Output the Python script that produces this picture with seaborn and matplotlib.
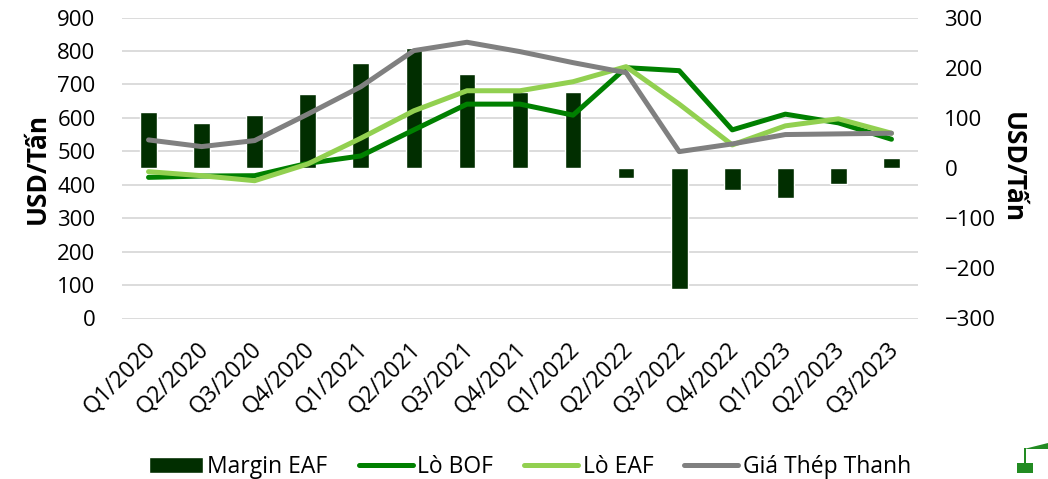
import numpy as np
import pandas as pd
import seaborn as sns
import matplotlib.pyplot as plt
from matplotlib.patches import Patch, Rectangle, Polygon
from matplotlib.lines import Line2D
from matplotlib.transforms import ScaledTranslation

quarters = ["Q1/2020", "Q2/2020", "Q3/2020", "Q4/2020", "Q1/2021", "Q2/2021", "Q3/2021", "Q4/2021",
            "Q1/2022", "Q2/2022", "Q3/2022", "Q4/2022", "Q1/2023", "Q2/2023", "Q3/2023"]
margin_eaf = [112, 90, 105, 147, 209, 240, 187, 151, 151, -19, -241, -44, -60, -32, 19]
lo_bof = [422, 426, 427, 464, 486, 564, 641, 641, 608, 750, 741, 564, 611, 585, 536]
lo_eaf = [439, 427, 412, 462, 539, 621, 681, 681, 708, 753, 641, 519, 576, 597, 554]
gia_thep = [534, 514, 532, 611, 693, 801, 826, 798, 765, 735, 499, 522, 550, 552, 554]

left_ticks = [0, 100, 200, 300, 400, 500, 600, 700, 800, 900]
right_ticks = [-300, -200, -100, 0, 100, 200, 300]

W, H = 1048, 479
sns.set_theme(style="white")
plt.rcParams["font.family"] = ["Open Sans", "DejaVu Sans"]

df = pd.DataFrame({"quarter": quarters, "margin": margin_eaf, "bof": lo_bof, "eaf": lo_eaf, "gia": gia_thep})

fig = plt.figure(figsize=(W / 100, H / 100), dpi=100)
ax = fig.add_axes([122 / W, 1 - 318.5 / H, 796 / W, 301 / H])
ax_bar = ax.twinx()
ax_line = ax.twinx()

# bars sit over the grid, lines over the bars
ax.set_zorder(1)
ax_bar.set_zorder(2)
ax_line.set_zorder(3)
ax_bar.patch.set_visible(False)
ax_line.patch.set_visible(False)

sns.barplot(data=df, x="quarter", y="margin", ax=ax_bar, color="#012E00", width=0.315, saturation=1)

for col, color, label in [("bof", "#008000", "Lò BOF"), ("eaf", "#92D050", "Lò EAF"), ("gia", "#808080", "Giá Thép Thanh")]:
    sns.lineplot(data=df, x="quarter", y=col, ax=ax_line, color=color, linewidth=3.6, label=label,
                 solid_capstyle="round", sort=False, legend=False)

for a in [ax, ax_bar, ax_line]:
    a.set_xlim(-0.5, 14.5)
    sns.despine(ax=a, left=True, right=True, top=True, bottom=True)

ax.set_ylim(0, 900)
ax_line.set_ylim(0, 900)
ax_bar.set_ylim(-300, 300)

ax.set_yticks(left_ticks)
ax.yaxis.grid(True, color="#D9D9D9", linewidth=1.3)
ax.set_axisbelow(True)
ax.tick_params(axis="y", length=0, labelsize=16, labelcolor="black", pad=19)
ax.set_ylabel("USD/Tấn", fontsize=19, fontweight="bold", color="black", labelpad=5)

ax_bar.set_yticks(right_ticks)
ax_bar.yaxis.tick_right()
ax_bar.yaxis.set_label_position("right")
ax_bar.tick_params(axis="y", length=0, labelsize=16, labelcolor="black", pad=19)
ax_bar.set_ylabel("USD/Tấn", fontsize=19, fontweight="bold", color="black", rotation=270, labelpad=22)

ax_line.set_yticks([])
ax_line.set_ylabel("")
ax_line.set_xlabel("")
ax_bar.set_xlabel("")
ax_bar.tick_params(axis="x", length=0, labelbottom=False)
ax_line.tick_params(axis="x", length=0, labelbottom=False)

ax.set_xticks(range(len(quarters)))
ax.set_xticklabels(quarters, rotation=45, ha="right", rotation_mode="anchor", fontsize=16.5, color="black")
ax.tick_params(axis="x", length=0, pad=14)
shift = ScaledTranslation(-5 / 100, 0, fig.dpi_scale_trans)
for lab in ax.get_xticklabels():
    lab.set_transform(lab.get_transform() + shift)

handles = [Patch(facecolor="#012E00", label="Margin EAF"),
           Line2D([], [], color="#008000", linewidth=3.6, solid_capstyle="round", label="Lò BOF"),
           Line2D([], [], color="#92D050", linewidth=3.6, solid_capstyle="round", label="Lò EAF"),
           Line2D([], [], color="#808080", linewidth=3.6, solid_capstyle="round", label="Giá Thép Thanh")]
fig.legend(handles=handles, loc="center", bbox_to_anchor=(530 / W, 1 - 467 / H), ncol=4, frameon=False,
           fontsize=16.5, handlelength=2.36, handletextpad=0.2, columnspacing=1.35, labelcolor="black")

# small logo, bottom right corner
logo = "#228B22"
fig.add_artist(Rectangle((1017 / W, 1 - 473 / H), 16 / W, 10 / H, transform=fig.transFigure, color=logo, lw=0))
fig.add_artist(Rectangle((1024 / W, 1 - 464 / H), 2 / W, 16 / H, transform=fig.transFigure, color=logo, lw=0))
fig.add_artist(Polygon([(1024 / W, 1 - 449 / H), (1048 / W, 1 - 443 / H), (1048 / W, 1 - 449 / H)],
                       transform=fig.transFigure, color=logo, lw=0))

fig.savefig("out.png", dpi=100)
